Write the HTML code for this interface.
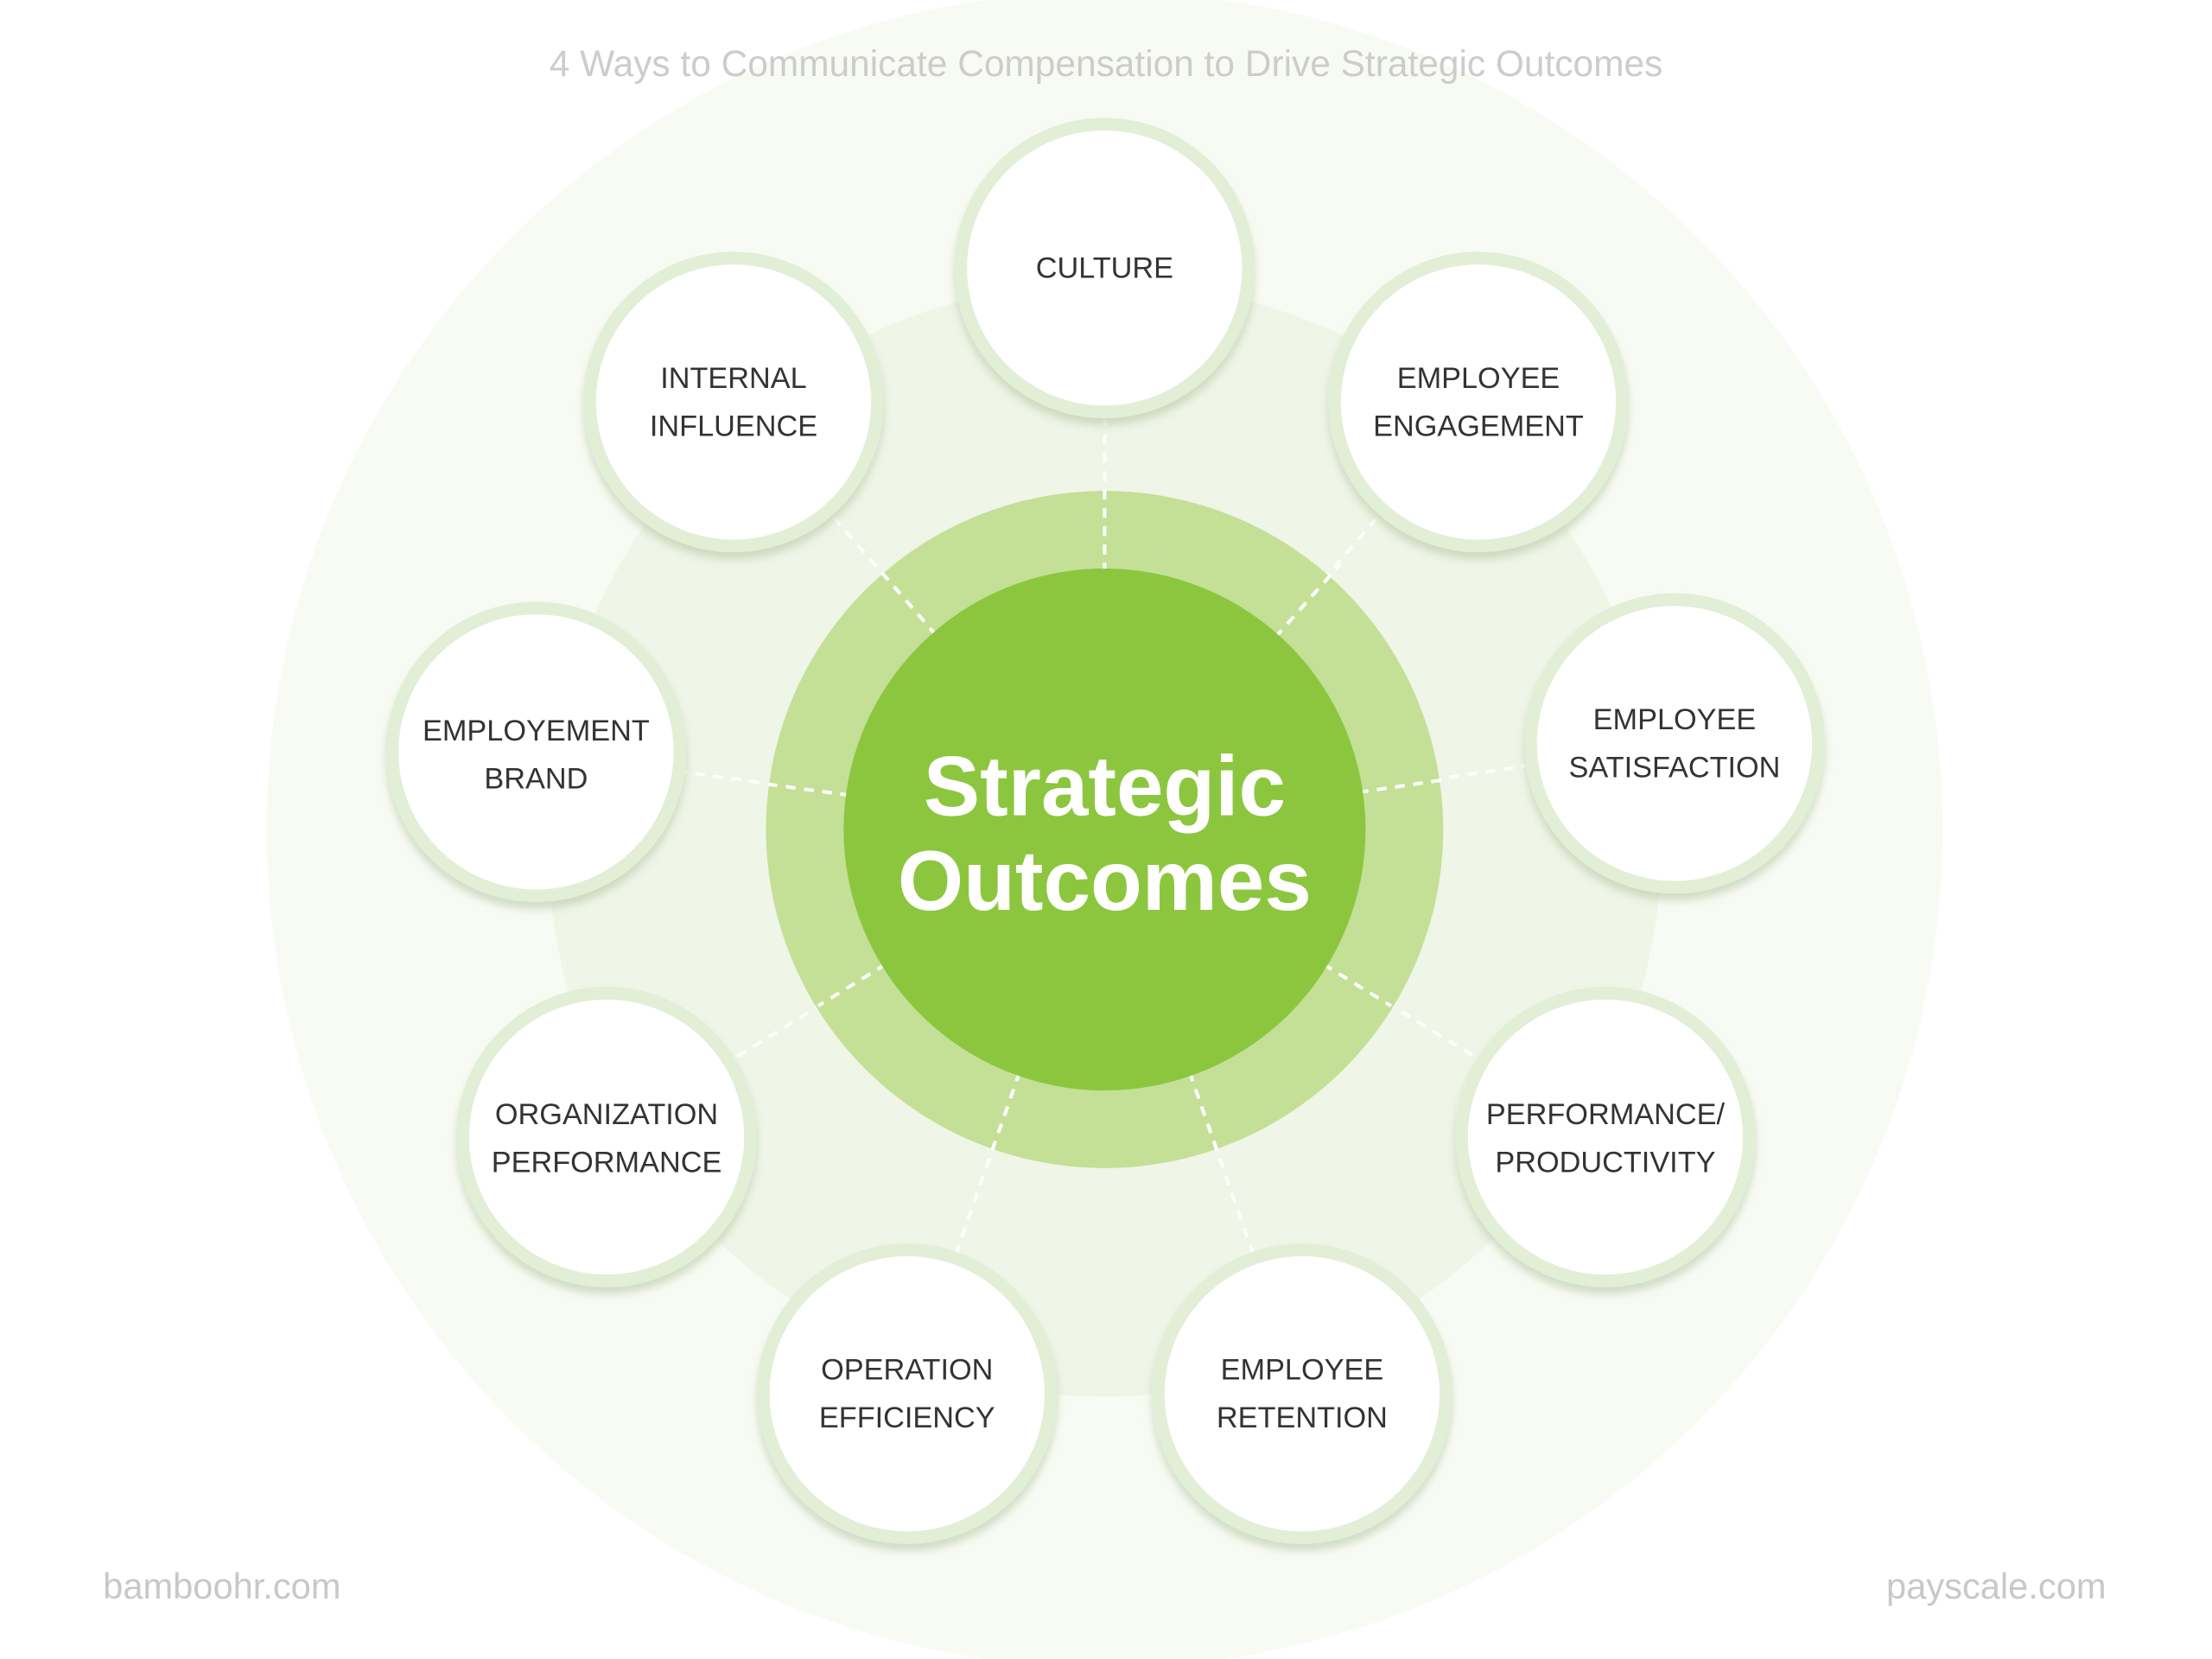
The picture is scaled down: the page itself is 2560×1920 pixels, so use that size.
<!DOCTYPE html>
<html><head><meta charset="utf-8"><style>
html,body{margin:0;padding:0;background:#fff;}
svg{display:block;}
text{font-family:"Liberation Sans","DejaVu Sans",sans-serif;}
</style></head><body>
<svg width="2560" height="1920" viewBox="0 0 1568 1176" xmlns="http://www.w3.org/2000/svg">
<defs>
<filter id="sh" x="-20%" y="-20%" width="140%" height="150%">
<feDropShadow dx="0" dy="5" stdDeviation="3" flood-color="#b8c8a8" flood-opacity="0.6"/>
</filter>
</defs>
<rect width="1568" height="1176" fill="#fff"/>
<circle cx="783" cy="588" r="594" fill="#f8fbf3"/>
<circle cx="783" cy="595" r="395" fill="#eff5e7"/>
<g stroke="#ffffff" stroke-width="2.5" stroke-dasharray="7,6" opacity="0.9">
<line x1="783" y1="588" x2="783" y2="190"/>
<line x1="783" y1="588" x2="520" y2="285"/>
<line x1="783" y1="588" x2="1048" y2="285"/>
<line x1="783" y1="588" x2="380" y2="533"/>
<line x1="783" y1="588" x2="1187" y2="527"/>
<line x1="783" y1="588" x2="430" y2="806"/>
<line x1="783" y1="588" x2="1138" y2="806"/>
<line x1="783" y1="588" x2="643" y2="988"/>
<line x1="783" y1="588" x2="923" y2="988"/>
</g>
<circle cx="783" cy="588" r="240" fill="#c3e096"/>
<g stroke="#ffffff" stroke-width="2.5" stroke-dasharray="7,6">
<line x1="783" y1="588" x2="783" y2="345"/>
<line x1="783" y1="588" x2="620" y2="400"/>
<line x1="783" y1="588" x2="950" y2="400"/>
<line x1="783" y1="588" x2="545" y2="556"/>
<line x1="783" y1="588" x2="1022" y2="553"/>
<line x1="783" y1="588" x2="580" y2="713"/>
<line x1="783" y1="588" x2="986" y2="713"/>
<line x1="783" y1="588" x2="700" y2="825"/>
<line x1="783" y1="588" x2="866" y2="825"/>
</g>
<circle cx="783" cy="588" r="185" fill="#8cc63f"/>
<text x="783" y="578" text-anchor="middle" font-size="60" font-weight="bold" fill="#fff">Strategic</text>
<text x="783" y="645" text-anchor="middle" font-size="60" font-weight="bold" fill="#fff">Outcomes</text>
<g filter="url(#sh)">
<circle cx="783" cy="190" r="102" fill="#fff" stroke="#e2eed5" stroke-width="9"/>
<circle cx="520" cy="285" r="102" fill="#fff" stroke="#e2eed5" stroke-width="9"/>
<circle cx="1048" cy="285" r="102" fill="#fff" stroke="#e2eed5" stroke-width="9"/>
<circle cx="380" cy="533" r="102" fill="#fff" stroke="#e2eed5" stroke-width="9"/>
<circle cx="1187" cy="527" r="102" fill="#fff" stroke="#e2eed5" stroke-width="9"/>
<circle cx="430" cy="806" r="102" fill="#fff" stroke="#e2eed5" stroke-width="9"/>
<circle cx="1138" cy="806" r="102" fill="#fff" stroke="#e2eed5" stroke-width="9"/>
<circle cx="643" cy="988" r="102" fill="#fff" stroke="#e2eed5" stroke-width="9"/>
<circle cx="923" cy="988" r="102" fill="#fff" stroke="#e2eed5" stroke-width="9"/>
</g>
<g font-size="21" fill="#333" text-anchor="middle">
<text x="783" y="197">CULTURE</text>
<text x="520" y="275">INTERNAL</text><text x="520" y="309">INFLUENCE</text>
<text x="1048" y="275">EMPLOYEE</text><text x="1048" y="309">ENGAGEMENT</text>
<text x="380" y="525">EMPLOYEMENT</text><text x="380" y="559">BRAND</text>
<text x="1187" y="517">EMPLOYEE</text><text x="1187" y="551">SATISFACTION</text>
<text x="430" y="797">ORGANIZATION</text><text x="430" y="831">PERFORMANCE</text>
<text x="1138" y="797">PERFORMANCE/</text><text x="1138" y="831">PRODUCTIVITY</text>
<text x="643" y="978">OPERATION</text><text x="643" y="1012">EFFICIENCY</text>
<text x="923" y="978">EMPLOYEE</text><text x="923" y="1012">RETENTION</text>
</g>
<text x="784" y="54" text-anchor="middle" font-size="26" fill="#cccccc">4 Ways to Communicate Compensation to Drive Strategic Outcomes</text>
<text x="73" y="1133" font-size="25.5" fill="#c8c8c8">bamboohr.com</text>
<text x="1493" y="1133" text-anchor="end" font-size="25.5" fill="#c8c8c8">payscale.com</text>
</svg>
</body></html>
